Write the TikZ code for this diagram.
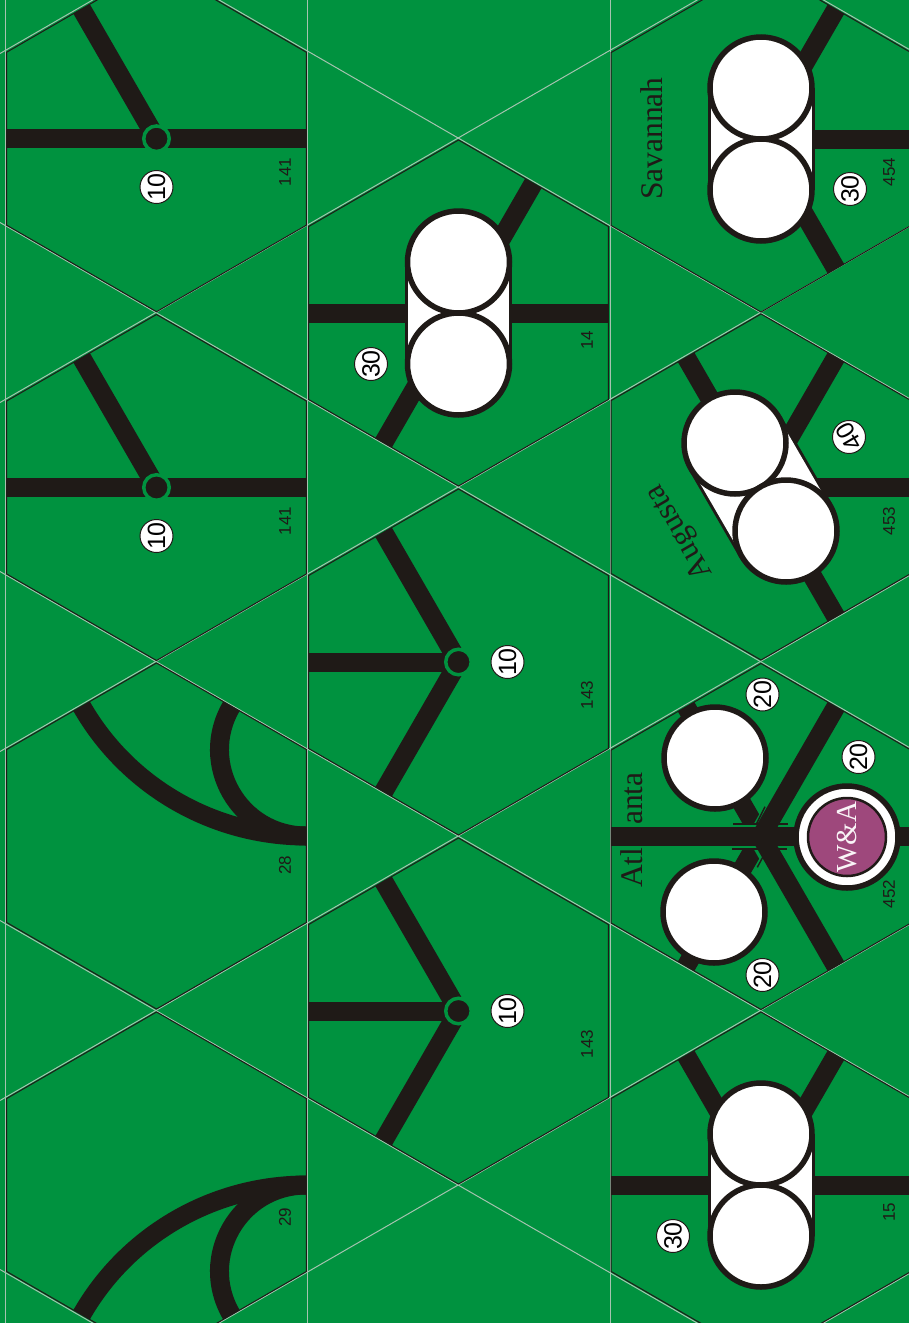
\documentclass[tikz,border=0pt]{standalone}
\usepackage{fontspec}
\setmainfont{Liberation Serif}
\newfontfamily\codefont{Liberation Sans}
\usetikzlibrary{shapes.geometric}
\definecolor{tilegreen}{RGB}{0,146,63}
\definecolor{trackblack}{RGB}{31,26,23}
\definecolor{cutgrey}{RGB}{165,195,175}
\definecolor{wapurple}{RGB}{158,72,124}

\begin{document}
\begin{tikzpicture}[
		x=1pt,
		y=-1pt,
		hexa/.style={regular polygon, regular polygon sides=6, shape border rotate=30, draw=trackblack, line width=1pt, minimum size=346pt, inner sep=0pt, outer sep=0pt},
		track/.style={draw=trackblack, line width=19pt},
		bridge/.style={draw=tilegreen, line width=25pt},
		tick/.style={draw=trackblack, line width=1.4pt},
		cutline/.style={draw=cutgrey, line width=1pt},
		town/.style={circle, fill=trackblack, draw=tilegreen, line width=3.5pt, minimum size=25.5pt, inner sep=0pt, outer sep=0pt},
		city/.style={circle, fill=white, draw=trackblack, line width=5.5pt, minimum size=102pt, inner sep=0pt, outer sep=0pt},
		value/.style={circle, fill=white, draw=trackblack, line width=1pt, minimum size=33pt, inner sep=0pt, rotate=90, font=\codefont\fontsize{25}{25}\selectfont},
		code/.style={rotate=90, inner sep=0pt, text=trackblack, font=\codefont\fontsize{17}{17}\selectfont},
		place/.style={rotate=90, inner sep=0pt, anchor=base west, text=trackblack, font=\fontsize{31.5}{31.5}\selectfont}
	]
	\useasboundingbox (0,0) rectangle (909,1323);
	\clip (0,0) rectangle (909,1323);
	\fill[tilegreen] (0,0) rectangle (909,1323);

	% cutting lines
	\foreach \xcut in {5.5,307.5,610}
		\draw[cutline] (\xcut,0) -- (\xcut,1323);
	\foreach \rise in {53.5,402.5,751.5,1100.5,1449.5,1798.5}
		\draw[cutline] (0,\rise) -- (909,{\rise-524.8});
	\foreach \rise in {-475.5,-126.5,222.5,571.5,920.5,1269.5}
		\draw[cutline] (0,\rise) -- (909,{\rise+524.8});

	% tiles
	\node[hexa] (T141a) at (156.5,138.7) {};
	\node[hexa] (T141b) at (156.5,487.5) {};
	\node[hexa] (T28) at (156.5,836) {};
	\node[hexa] (T29) at (156.5,1185) {};
	\node[hexa] (T14) at (458.5,313) {};
	\node[hexa] (T143a) at (458.5,662) {};
	\node[hexa] (T143b) at (458.5,1011) {};
	\node[hexa] (T454) at (761,139) {};
	\node[hexa] (T453) at (761,487) {};
	\node[hexa] (T452) at (761,836.5) {};
	\node[hexa] (T15) at (761,1185) {};

	% straight track
	\draw[track] (T141a.side 2) -- (T141a.side 5);
	\draw[track] (T141a.center) -- (T141a.side 1);
	\draw[track] (T141b.side 2) -- (T141b.side 5);
	\draw[track] (T141b.center) -- (T141b.side 1);
	\draw[track] (T14.side 2) -- (T14.side 5);
	\draw[track] (T14.side 3) -- (T14.side 6);
	\foreach \tile in {T143a,T143b} {
		\draw[track] (\tile.center) -- (\tile.side 1);
		\draw[track] (\tile.center) -- (\tile.side 2);
		\draw[track] (\tile.center) -- (\tile.side 3);
	}
	\draw[track] (T454.center) -- (T454.side 4);
	\draw[track] (T454.center) -- (T454.side 5);
	\draw[track] (T454.center) -- (T454.side 6);
	\draw[track] (T453.center) -- (T453.side 1);
	\draw[track] (T453.center) -- (T453.side 4);
	\draw[track] (T453.center) -- (T453.side 5);
	\draw[track] (T453.center) -- (T453.side 6);
	\draw[track] (T15.side 2) -- (T15.side 5);
	\draw[track] (T15.center) -- (T15.side 6);
	\draw[track] (T15.center) -- (T15.side 1);

	% curved track
	\draw[track] (T28.side 5) .. controls (213.2,836) and (127.4,786.4) .. (T28.side 1);
	\draw[track] (T28.side 5) .. controls (239.3,836) and (197.7,763.7) .. (T28.side 6);
	\draw[track] (T29.side 5) .. controls (213.2,1185) and (127.4,1234.6) .. (T29.side 3);
	\draw[track] (T29.side 5) .. controls (239.3,1185) and (197.7,1257.3) .. (T29.side 4);

	% Atlanta crossing
	\draw[track] (T452.center) -- (T452.side 1);
	\draw[track] (T452.center) -- (T452.side 3);
	\draw[bridge] (733,836.5) -- (788,836.5);
	\draw[bridge] (T452.center) -- (778,806.5);
	\draw[bridge] (T452.center) -- (778,866.5);
	\draw[tick] (733,824) -- (788,824);
	\draw[tick] (732,849) -- (787,849);
	\draw[tick] (756.7,823.3) -- (765,806.7);
	\draw[tick] (757.3,867.3) -- (765.7,851.7);
	\draw[track] (T452.side 2) -- (T452.side 5);
	\draw[track] (T452.center) -- (T452.side 6);
	\draw[track] (T452.center) -- (T452.side 4);

	% stations
	\node[town] (S141a) at (T141a.center) {};
	\node[town] (S141b) at (T141b.center) {};
	\node[town] (S143a) at (T143a.center) {};
	\node[town] (S143b) at (T143b.center) {};

	\foreach \ax/\ay/\bx/\by in {761/88/761/190,458.5/262/458.5/364,735/443/786/531,761/1134/761/1236} {
		\draw[draw=trackblack, line width=107pt] (\ax,\ay) -- (\bx,\by);
		\draw[draw=white, line width=101pt] (\ax,\ay) -- (\bx,\by);
		\node[city] at (\ax,\ay) {};
		\node[city] at (\bx,\by) {};
	}
	\node[city] (C452a) at (715,758) {};
	\node[city] (C452b) at (714,912) {};
	\node[city] (C452c) at (847,837) {};
	\node[circle, fill=wapurple, draw=trackblack, line width=2.5pt, minimum size=78pt, inner sep=0pt, rotate=90, text=white!94!wapurple, font=\fontsize{29}{29}\selectfont] (WA) at (C452c.center) {W\&A};

	% values
	\node[value] (V141a) at (156.5,187) {10};
	\node[value] (V141b) at (156.5,536) {10};
	\node[value] (V143a) at (507.5,662) {10};
	\node[value] (V143b) at (507.5,1011) {10};
	\node[value] (V14) at (371,364) {30};
	\node[value] (V454) at (850,189) {30};
	\node[value] (V15) at (673,1236) {30};
	\node[value, rotate=30] (V453) at (849,437) {40};
	\node[value] (V452a) at (762.5,694.5) {20};
	\node[value] (V452b) at (858.5,757) {20};
	\node[value] (V452c) at (762.5,975) {20};

	% tile numbers
	\node[code] (N141a) at (285,172) {141};
	\node[code] (N141b) at (285,521) {141};
	\node[code] (N28) at (285,865) {28};
	\node[code] (N29) at (285,1217) {29};
	\node[code] (N14) at (587,340) {14};
	\node[code] (N143a) at (587,695) {143};
	\node[code] (N143b) at (587,1044) {143};
	\node[code] (N454) at (889,172) {454};
	\node[code] (N453) at (889,521) {453};
	\node[code] (N452) at (889,894) {452};
	\node[code] (N15) at (889,1212) {15};

	% place names
	\node[place] (Savannah) at (662,200) {Savannah};
	\node[place] (Atl) at (642,888) {Atl};
	\node[place] (anta) at (642,825) {anta};
	\node[place, anchor=center, rotate=30] (Augusta) at (680,532) {Augusta};
\end{tikzpicture}
\end{document}
